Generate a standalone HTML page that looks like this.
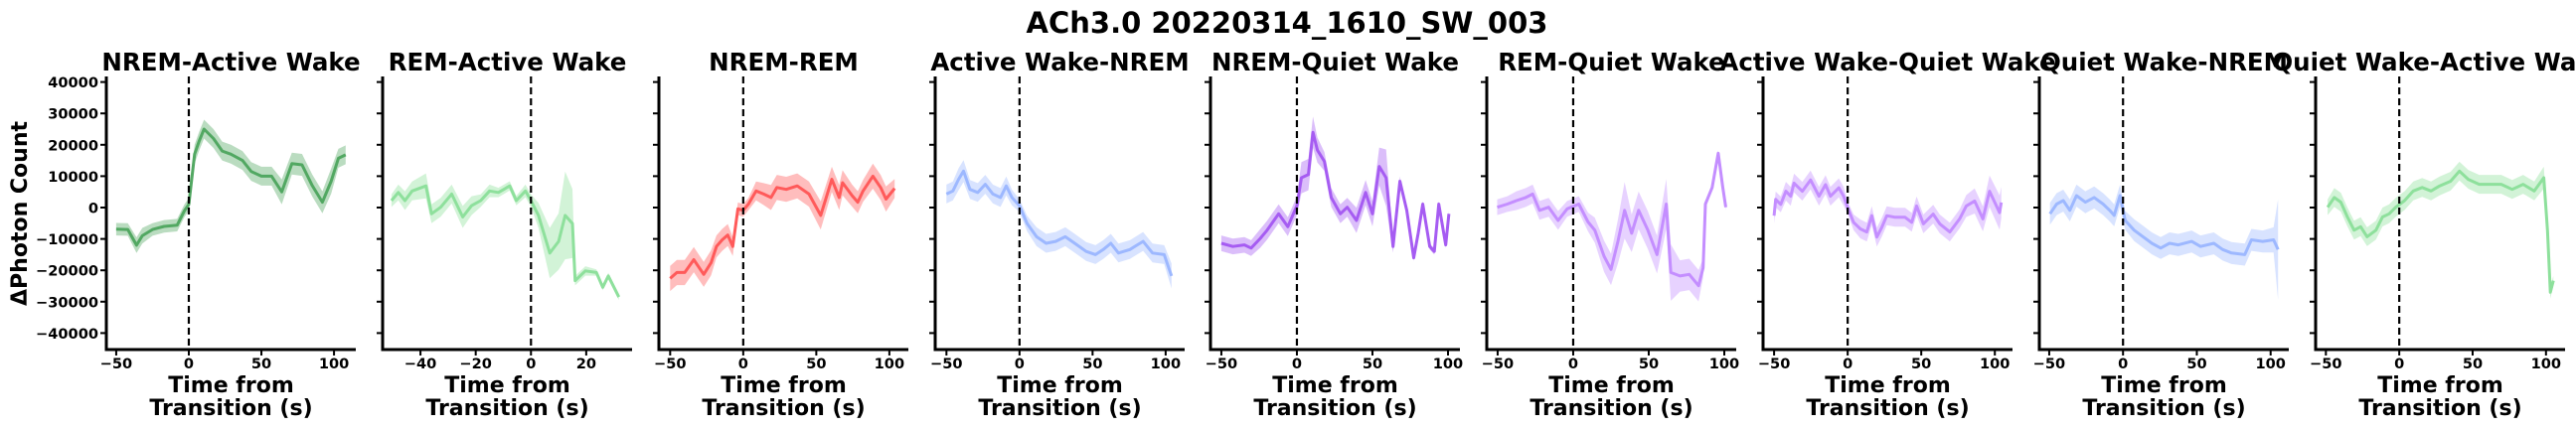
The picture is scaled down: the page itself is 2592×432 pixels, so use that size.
<!DOCTYPE html>
<html><head><meta charset="utf-8">
<style>
html,body{margin:0;padding:0;background:#fff;}
svg{display:block;font-family:"DejaVu Sans","Liberation Sans",sans-serif;font-weight:bold;}
</style></head>
<body>
<svg id="fig" xmlns="http://www.w3.org/2000/svg" width="2592" height="432" viewBox="0 0 2592 432">
<text x="1295" y="33" font-size="29" text-anchor="middle">ACh3.0 20220314_1610_SW_003</text>
<text transform="translate(27,215) rotate(-90)" font-size="22" text-anchor="middle">ΔPhoton Count</text>
</svg>
<script>
// ---- data (values in thousands of photon counts) ----
const p1_t=[-50,-42,-36,-32,-25,-17,-8,-3,0,4,7,10.5,17,23,29,37,43,50,57,64,71,78,85,92,98,103,108];
const p1_v=[-6.9,-7,-12,-9,-7,-6,-5.6,-1,1,17,21,25,22,18,17,15,11.5,10,10,5,14,13.6,7,1.7,8.4,15.7,16.8];
const p1_e=[2,2,2.5,2.5,2,2,2,2,2,3,3,3,3,3,3,3,3,3,3,4,3.5,3.5,3.5,3.5,4,3,3];
const p2_t=[-50.5,-48,-45.6,-43,-38,-36,-32.7,-28.7,-24.7,-21.5,-18.2,-15,-11.8,-7.7,-5.3,-2,0,2.7,6.8,10,12.4,15,16,19.7,23.7,26,28,31.8];
const p2_v=[2.2,4.8,2.2,5.3,6.9,-2,0.1,4.3,-3,0.6,2.2,5.3,4.8,6.9,2.2,5.3,2.2,-2.5,-14.5,-10.8,-2.5,-5.1,-23.3,-20.2,-20.7,-25.4,-21.8,-28.5];
const p2_e=[2,2.5,3,3,4,3,3,3,3.5,3,2,2,1.5,1.5,1.5,2,2,4,8,9,14,11,1.5,1.5,1,1,1,1];
const p3_t=[-50,-45.4,-40,-33.8,-27,-22,-18.3,-14.4,-10.6,-7.2,-3.6,0,3.6,8.8,14,19,23,29.4,37,45,53,60.6,65.7,68,74.5,78.4,82,88.7,94,97.7,103.6];
const p3_v=[-22.6,-20.7,-20.7,-16.6,-21.3,-17.6,-12.4,-10.3,-8.75,-12.4,-0.4,-0.9,1.1,5.3,4.3,3.2,6.4,5.8,6.9,4.3,-2.5,9,3.2,7.9,3.8,1.7,5.3,10,6.4,2.7,6.1];
const p3_e=[4,4,4,4,4,4,3.5,3.5,3.5,3,2,2,2,3,3.5,4,4,4,4,4,4.5,4,4,4,3.5,3.5,3.5,4,4,4,3];
const p4_t=[-50,-45.6,-41.7,-38.3,-33.9,-28.6,-23.4,-18.2,-13,-9.1,-5.2,0,5.2,11.7,18.2,24.7,31.3,37.8,45.6,52,57.3,62.5,67.7,75.5,84.6,91,99,104];
const p4_v=[4.3,5.3,9,11.6,5.8,4.8,7.4,4.3,3.2,6.9,3.2,0.6,-5.1,-9.3,-11.4,-10.8,-9.3,-11.4,-14,-15,-13.4,-11.4,-14.5,-13.4,-10.8,-14.5,-15,-21.8];
const p4_e=[3,3,3.5,3.5,3,3,3,3,3,3,2.5,2,2.5,3,3,3,3,3,3,3,3,3,3,3,3,3,3,4];
const p5_t=[-50,-42.4,-34.8,-30.3,-24.2,-19.7,-12.1,-6,0,3,7.6,10.6,13.6,18.2,22.7,28.8,33.3,39.4,45.5,50,54.5,59,63.6,68.2,72.7,77.3,80.3,83.3,87.9,90.9,93.9,98.5,100.6];
const p5_v=[-11.4,-12.4,-11.9,-12.9,-9.8,-7.2,-2,-6.1,0.6,9.5,10.5,24,18.3,14.7,3.2,-2,0.1,-4.1,4.8,-2,13.1,9.5,-12.4,8.4,-0.9,-16,-8.2,1.1,-12.4,-14,1.1,-11.9,-2];
const p5_e=[2.5,2.5,2.5,2.5,3,3,3,3,3,5,5,5,4,3,3,3,3,4,4,4,6,9,2,1.5,1,1,1,1,1,1,1,1,1];
const p6_t=[-50.3,-43.6,-37.5,-31.4,-26.8,-22.3,-16.2,-10,-4,3.7,9.8,14.3,20.4,25,29.6,34,38.7,43.3,49.4,55.5,61.6,64.6,70.7,76.8,83,86,87.5,92,96,99,101];
const p6_v=[0.1,1.1,2.2,3.2,4.3,-0.9,0.1,-4.1,-0.4,1.1,-4.6,-7.2,-15.5,-19.7,-10.8,-0.9,-8.2,-0.9,-7.2,-15,1.1,-20.7,-21.8,-21.3,-24.9,-19.2,1.1,6.4,17.3,6.4,0.1];
const p6_e=[2.5,2.5,3,3,3,3,3,3,2.5,2.5,3,4,5,5,7,9,6,6,6,6,8,9,5,5,5,3,1,1,1,1,1];
const p7_t=[-50,-48.9,-45.5,-42,-38.7,-36.4,-30.8,-25.2,-19.5,-15,-11.7,-6,-2.7,0,4,8.6,13,16.4,19.8,23.2,26.6,32.2,39,43.5,46.8,51.4,58.1,62.6,69.4,76.1,80.6,86.3,91.9,96.4,103.2,104.4];
const p7_v=[-2.6,2.6,1,5.2,3.6,7.8,5.2,8.8,3.6,7.3,3.6,6.3,3.6,0,-4.7,-6.8,-7.8,-2.6,-9.4,-6.3,-2.6,-3.1,-3.1,-4.7,0.5,-5.2,-2.1,-5.2,-7.8,-3.6,0.5,2.1,-3.6,5.2,-1.6,1.6];
const p7_e=[2.5,2.5,2.5,3,3,3,3,3,3,3,3,3,3,2,2.5,3,3,3,3,3,3,3,3,3,3,3,3,3,3,3,3.5,4,4,5,5.5,5];
const p8_t=[-49.5,-45,-40.5,-36,-31.5,-25.5,-19.5,-13.5,-9,-6,-2,1.5,7.5,13.5,19.5,25.5,31.5,37.5,46.5,52.5,61.5,67.5,73.5,82.5,87,94.6,102,105];
const p8_v=[-2,1.1,2.2,-0.9,3.8,1.7,3.2,1.1,-0.9,-2.5,3.8,-4.1,-7.2,-9.3,-11.4,-12.9,-11.4,-11.9,-10.8,-12.4,-11.4,-13.4,-14.5,-15,-10.3,-10.8,-10.3,-13.4];
const p8_e=[3.5,3.5,3.5,3.5,3.5,3.5,3.5,3.5,3.5,3.5,3.5,3,3.5,3.5,3.5,3.5,3.5,3.5,3.5,3.5,3.5,3.5,3.5,3.5,3.5,3.5,4,16];
const p9_t=[-48.8,-44.3,-39.8,-35.3,-30.8,-26.3,-21.9,-15.9,-11.4,-6.9,-2.4,3.6,9.6,15.6,21.6,27.5,35,41,47,54.5,62,69.5,77,84.4,92,98.5,101,103,105];
const p9_v=[0.1,3.2,1.7,-3,-7.2,-6.1,-9.3,-7.2,-3,-2,0.1,2.2,5.3,6.4,5.3,6.9,8.4,11.6,9,7.4,7.4,7.4,5.8,7.4,5.3,9.5,-7.2,-27,-23.3];
const p9_e=[2.5,3,3,3,3,3,3,3,3,3,3,3,3,3,3,3,3,3,3,3,3,3,3,3,3,3.5,3,2,1.5];
const yTicks=[-40000,-30000,-20000,-10000,0,10000,20000,30000,40000];
const xTicksA=[-50,0,50,100];
const xTicksB=[-40,-20,0,20];
const titles=["NREM-Active Wake","REM-Active Wake","NREM-REM","Active Wake-NREM","NREM-Quiet Wake","REM-Quiet Wake","Active Wake-Quiet Wake","Quiet Wake-NREM","Quiet Wake-Active Wake"];

// ---- layout / style ----
const NS="http://www.w3.org/2000/svg";
const svg=document.getElementById('fig');
const lefts=[107,385,663,941,1218,1496,1774,2052,2330];
const W=251, TOP=77, BOT=352;
const series=[[p1_t,p1_v,p1_e],[p2_t,p2_v,p2_e],[p3_t,p3_v,p3_e],[p4_t,p4_v,p4_e],[p5_t,p5_v,p5_e],[p6_t,p6_v,p6_e],[p7_t,p7_v,p7_e],[p8_t,p8_v,p8_e],[p9_t,p9_v,p9_e]];
const colors=["#52a862","#8ee09c","#ff5a5a","#9db8ff","#a65cf2","#c48eff","#c48eff","#9db8ff","#8ee09c"];
const domains=[[-56.8,115],[-53.7,36.6],[-57.7,113],[-57.7,113],[-57.2,107.9],[-57.2,107.9],[-57.5,112],[-56.7,112.3],[-57,113]];
function yScale(v){return 209-3.16*v;} // v in thousands
function mk(tag,attrs,parent){const e=document.createElementNS(NS,tag);for(const k in attrs)e.setAttribute(k,attrs[k]);(parent||svg).appendChild(e);return e;}

series.forEach((s,i)=>{
  const L=lefts[i],[d0,d1]=domains[i];
  const xs=t=>L+(t-d0)/(d1-d0)*W;
  const g=mk('g',{});
  
  
  const [T,V,E]=s;
  // band
  let up=T.map((t,k)=>xs(t).toFixed(1)+','+yScale(V[k]+E[k]).toFixed(1));
  let dn=T.map((t,k)=>xs(t).toFixed(1)+','+yScale(V[k]-E[k]).toFixed(1)).reverse();
  const band=mk('polygon',{points:up.concat(dn).join(' '),fill:colors[i],'fill-opacity':0.4,stroke:'none'},g);
  
  
  const line=mk('polyline',{points:T.map((t,k)=>xs(t).toFixed(1)+','+yScale(V[k]).toFixed(1)).join(' '),fill:'none',stroke:colors[i],'stroke-width':3,'stroke-linejoin':'round'},g);
  
  
  // dashed transition line
  const dl=mk('line',{x1:xs(0),x2:xs(0),y1:TOP,y2:BOT,stroke:'#000','stroke-width':2.2,'stroke-dasharray':'7,4'},g);
  
  
  // spines
  const ys=mk('line',{x1:L,x2:L,y1:TOP,y2:BOT+1.5,stroke:'#000','stroke-width':3},g);
  
  
  const xa=mk('line',{x1:L-1.5,x2:L+W,y1:BOT,y2:BOT,stroke:'#000','stroke-width':3},g);
  
  
  // y ticks
  yTicks.forEach(v=>{
    const y=yScale(v/1000);
    mk('line',{x1:L-6,x2:L,y1:y,y2:y,stroke:'#000','stroke-width':2},g);
    if(i===0){
      const tl=mk('text',{x:L-8,y:y+5.5,'font-size':14.6,'text-anchor':'end'},g);
      
      
      tl.textContent=(v<0?'\u2212':'')+Math.abs(v);
    }
  });
  // x ticks
  const xt=(i===1)?xTicksB:xTicksA;
  xt.forEach(t=>{
    const x=xs(t);
    mk('line',{x1:x,x2:x,y1:BOT,y2:BOT+6,stroke:'#000','stroke-width':2},g);
    const tl=mk('text',{x:x,y:BOT+19,'font-size':14.6,'text-anchor':'middle'},g);
    
    
    tl.textContent=(t<0?'\u2212':'')+Math.abs(t);
  });
  const cx=L+W/2;
  const ti=mk('text',{x:cx,y:71,'font-size':24.5,'text-anchor':'middle'},g);
  
  
  ti.textContent=titles[i];
  const l1=mk('text',{x:cx,y:395,'font-size':22,'text-anchor':'middle'},g);
  
  
  l1.textContent='Time from';
  const l2=mk('text',{x:cx,y:418,'font-size':22,'text-anchor':'middle'},g);
  
  
  l2.textContent='Transition (s)';
});
</script>
</body></html>
